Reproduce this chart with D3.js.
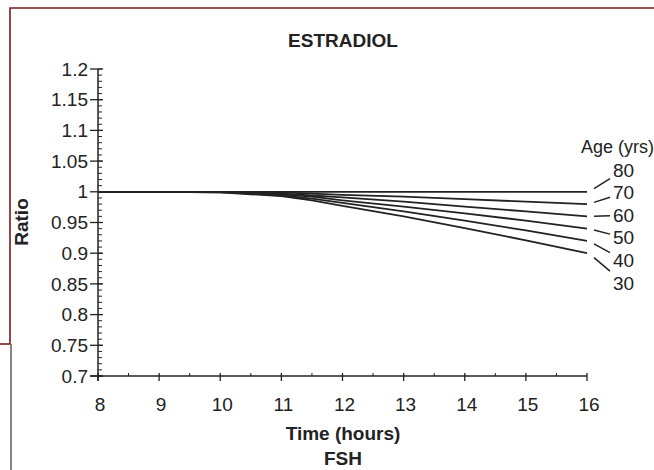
<!DOCTYPE html>
<html><head><meta charset="utf-8">
<script src="https://cdn.jsdelivr.net/npm/d3@7"></script>
<style>
html,body{margin:0;padding:0;background:#fff;}
svg{display:block;}
text{font-family:"Liberation Sans",Arial,Helvetica,sans-serif;fill:#222;}
</style></head>
<body>
<svg id="c" width="654" height="470"></svg>
<script>
// ---- data ----
const times = [8, 9, 10, 10.5, 11, 11.5, 12, 13, 14, 15, 16];
const ages = [80, 70, 60, 50, 40, 30];
const ratio80 = [1, 1, 1, 1, 1, 1, 1, 1, 1, 1, 1];
const ratio70 = [1, 1, 1, 0.999, 0.999, 0.997, 0.995, 0.992, 0.988, 0.984, 0.980];
const ratio60 = [1, 1, 1, 0.999, 0.997, 0.994, 0.991, 0.984, 0.976, 0.968, 0.960];
const ratio50 = [1, 1, 1, 0.998, 0.996, 0.992, 0.986, 0.976, 0.965, 0.953, 0.940];
const ratio40 = [1, 1, 0.999, 0.997, 0.994, 0.989, 0.982, 0.968, 0.953, 0.937, 0.920];
const ratio30 = [1, 1, 0.999, 0.996, 0.993, 0.986, 0.977, 0.960, 0.941, 0.921, 0.900];
const seriesValues = [ratio80, ratio70, ratio60, ratio50, ratio40, ratio30];
const xTicks = [8, 9, 10, 11, 12, 13, 14, 15, 16];
const yTicks = [0.7, 0.75, 0.8, 0.85, 0.9, 0.95, 1, 1.05, 1.1, 1.15, 1.2];
const yTickLabels = ["0.7", "0.75", "0.8", "0.85", "0.9", "0.95", "1", "1.05", "1.1", "1.15", "1.2"];
const title = "ESTRADIOL";
const xTitle = "Time (hours)";
const yTitle = "Ratio";
const caption = "FSH";
const legendTitle = "Age (yrs)";

// ---- layout ----
const svg = d3.select("#c");
const x = d3.scaleLinear().domain([8, 16]).range([98, 587]);
const y = d3.scaleLinear().domain([0.7, 1.2]).range([376, 69]);
const ink = "#222";
const fs = "19px";

// frame (cropped figure border)
const frame = svg.append("g").attr("stroke", "#7a1a1a").attr("stroke-width", 1.6).attr("fill", "none");
frame.append("path").attr("d", "M10,344 V8 H654");
frame.append("path").attr("d", "M0,344 H10");
svg.append("path").attr("d", "M11,344 V470").attr("stroke", "#333").attr("stroke-width", 1.2);

// y axis
const gy = svg.append("g");
gy.append("line").attr("x1", x(8)).attr("x2", x(8)).attr("y1", y(1.2)).attr("y2", y(0.7) + 5)
  .attr("stroke", ink).attr("stroke-width", 1.5);
const yMinor = d3.range(70, 121).map(v => v / 100);
gy.selectAll(".ymin").data(yMinor).join("line")
  .attr("x1", x(8)).attr("x2", x(8) + 4)
  .attr("y1", d => y(d)).attr("y2", d => y(d))
  .attr("stroke", ink).attr("stroke-width", 1);
gy.selectAll(".ymaj").data(yTicks).join("line")
  .attr("x1", x(8) - 8).attr("x2", x(8) + 5)
  .attr("y1", d => y(d)).attr("y2", d => y(d))
  .attr("stroke", ink).attr("stroke-width", 1.3);
gy.selectAll(".ylab").data(yTicks).join("text")
  .attr("x", x(8) - 10).attr("y", d => y(d)).attr("dy", "0.35em")
  .attr("text-anchor", "end").style("font-size", fs)
  .text((d, i) => yTickLabels[i]);

// x axis
const gx = svg.append("g");
gx.append("line").attr("x1", x(8) - 8).attr("x2", x(16)).attr("y1", y(0.7)).attr("y2", y(0.7))
  .attr("stroke", ink).attr("stroke-width", 1.5);
const xMinor = d3.range(8.5, 16, 1);
gx.selectAll(".xmin").data(xMinor).join("line")
  .attr("x1", d => x(d)).attr("x2", d => x(d))
  .attr("y1", y(0.7) - 3).attr("y2", y(0.7))
  .attr("stroke", ink).attr("stroke-width", 1);
gx.selectAll(".xmaj").data(xTicks).join("line")
  .attr("x1", d => x(d)).attr("x2", d => x(d))
  .attr("y1", y(0.7) - 3).attr("y2", y(0.7) + 5)
  .attr("stroke", ink).attr("stroke-width", 1.3);
gx.selectAll(".xlab").data(xTicks).join("text")
  .attr("x", d => x(d) + 2).attr("y", 411)
  .attr("text-anchor", "middle").style("font-size", fs)
  .text(d => d);

// lines
const line = d3.line().x((d, i) => x(times[i])).y(d => y(d));
svg.append("g").selectAll("path").data(seriesValues).join("path")
  .attr("d", d => line(d)).attr("fill", "none")
  .attr("stroke", ink).attr("stroke-width", 1.8);

// legend labels with leader lines
const labelY = ages.map((a, i) => 170 + i * 22.6);
const lg = svg.append("g");
ages.forEach((a, i) => {
  const yEnd = y(seriesValues[i][seriesValues[i].length - 1]);
  const ly = labelY[i];
  lg.append("line")
    .attr("x1", x(16) + 7).attr("y1", yEnd + 0.15 * (ly - yEnd))
    .attr("x2", x(16) + 23).attr("y2", ly + 0.4 * (yEnd - ly))
    .attr("stroke", ink).attr("stroke-width", 1.5);
  lg.append("text").attr("x", x(16) + 26).attr("y", ly).attr("dy", "0.35em")
    .style("font-size", fs).text(a);
});
lg.append("text").attr("x", 581).attr("y", 147).attr("dy", "0.35em")
  .style("font-size", "18px").text(legendTitle);

// titles
svg.append("text").attr("x", 343).attr("y", 47).attr("text-anchor", "middle")
  .style("font-size", fs).style("font-weight", "bold").text(title);
svg.append("text").attr("x", 343).attr("y", 440).attr("text-anchor", "middle")
  .style("font-size", fs).style("font-weight", "bold").text(xTitle);
svg.append("text").attr("x", 343).attr("y", 465).attr("text-anchor", "middle")
  .style("font-size", fs).style("font-weight", "bold").text(caption);
svg.append("text").attr("transform", "translate(28,222) rotate(-90)")
  .attr("text-anchor", "middle")
  .style("font-size", fs).style("font-weight", "bold").text(yTitle);
</script>
</body></html>
